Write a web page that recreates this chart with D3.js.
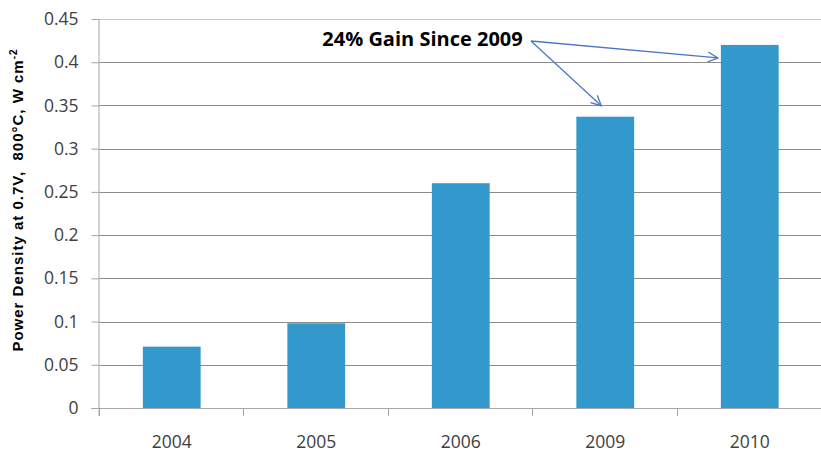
<!DOCTYPE html>
<html><head><meta charset="utf-8">
<script src="https://cdn.jsdelivr.net/npm/d3@7"></script>
<style>body{margin:0;background:#fff}svg{display:block}</style>
</head><body>
<svg id="c" width="821" height="452"></svg>
<script>
const categories = ["2004","2005","2006","2009","2010"];
const values = [0.071, 0.098, 0.26, 0.337, 0.42];
const yTicks = [0,0.05,0.1,0.15,0.2,0.25,0.3,0.35,0.4,0.45];
const yTickLabels = ["0","0.05","0.1","0.15","0.2","0.25","0.3","0.35","0.4","0.45"];
const annotationText = "24% Gain Since 2009";
const annotationTargets = ["2009","2010"];

const svg = d3.select("#c");
const font = "'Open Sans', 'Liberation Sans', sans-serif";
const mLeft = 99.5, mRight = 822, mTop = 19, mBottom = 408;
const x = d3.scaleBand().domain(categories).range([mLeft, mRight]).paddingInner(0.6).paddingOuter(0.3);
const xb = d3.scaleBand().domain(categories).range([mLeft, mRight]);
const y = d3.scaleLinear().domain([0, 0.45]).range([mBottom, mTop]);

// gridlines
svg.append("g").selectAll("line").data(yTicks.slice(1)).join("line")
  .attr("x1", mLeft).attr("x2", mRight)
  .attr("y1", d => Math.round(y(d)) + 0.5).attr("y2", d => Math.round(y(d)) + 0.5)
  .attr("stroke", d => d === 0.45 ? "#c8c8c8" : "#8c8c8c").attr("stroke-width", 1);

// bars
svg.append("g").selectAll("rect").data(values).join("rect")
  .attr("x", (d,i) => x(categories[i]))
  .attr("width", x.bandwidth())
  .attr("y", d => y(d))
  .attr("height", d => mBottom - y(d))
  .attr("fill", "#3399cc");

// y axis
const yAxis = d3.axisLeft(y).tickValues(yTicks).tickFormat((d,i) => yTickLabels[i]).tickSize(8).tickPadding(13);
const gy = svg.append("g").attr("transform", `translate(${mLeft},0)`).call(yAxis);
gy.select(".domain").attr("stroke", "#a6a6a6").attr("d", `M-0.5,${mTop}V${mBottom+8}`);
gy.selectAll(".tick line").attr("stroke", "#a6a6a6");
gy.selectAll("text").attr("font-family", font).attr("font-size", 17.5).attr("fill", "#404040");

// x axis
const gx = svg.append("g").attr("transform", `translate(0,${mBottom})`);
gx.append("line").attr("x1", mLeft - 8).attr("x2", mRight).attr("y1", 0.5).attr("y2", 0.5).attr("stroke", "#a6a6a6");
gx.selectAll(".xt").data(categories).join("line").attr("class","xt")
  .attr("x1", d => Math.round(xb(d)) - 0.5).attr("x2", d => Math.round(xb(d)) - 0.5)
  .attr("y1", 0).attr("y2", 8).attr("stroke", "#a6a6a6");
gx.selectAll(".xl").data(categories).join("text").attr("class","xl")
  .attr("x", d => xb(d) + xb.bandwidth()/2).attr("y", 40)
  .attr("text-anchor", "middle").attr("font-family", font).attr("font-size", 17.5).attr("fill", "#404040")
  .text(d => d);

// y title
const yt = svg.append("text").attr("transform", `translate(23,200) rotate(-90)`)
  .attr("text-anchor", "middle").attr("font-family", "'Liberation Sans', Arial, sans-serif").attr("font-size", 15)
  .attr("font-weight", "bold").attr("fill", "#000").attr("letter-spacing", 1);
yt.append("tspan").text("Power Density at 0.7V,\u00a0 800°C, W cm");
yt.append("tspan").attr("dy", -6).attr("font-size", 10).text("-2");

// annotation
svg.append("defs").append("marker").attr("id","ah").attr("viewBox","0 0 12 12")
  .attr("refX", 11).attr("refY", 6).attr("markerWidth", 12).attr("markerHeight", 12)
  .attr("markerUnits","userSpaceOnUse").attr("orient","auto")
  .append("path").attr("d","M1,1L11,6L1,11").attr("fill","none").attr("stroke","#4a78c8").attr("stroke-width",1.3);

svg.append("text").attr("x", 422.5).attr("y", 46).attr("text-anchor","middle")
  .attr("font-family", font).attr("font-size", 20).attr("font-weight","bold").attr("fill","#000")
  .text(annotationText);
const ox = 531, oy = 41;
const i9 = categories.indexOf(annotationTargets[0]), i10 = categories.indexOf(annotationTargets[1]);
const tips = [
  [x(annotationTargets[0]) + x.bandwidth()/2 - 4, y(values[i9]) - 11],
  [x(annotationTargets[1]) - 3, y(values[i10]) + 13]
];
svg.append("g").selectAll("line").data(tips).join("line")
  .attr("x1", ox).attr("y1", oy).attr("x2", d => d[0]).attr("y2", d => d[1])
  .attr("stroke", "#4a78c8").attr("stroke-width", 1.3).attr("marker-end","url(#ah)");
</script>
</body></html>
